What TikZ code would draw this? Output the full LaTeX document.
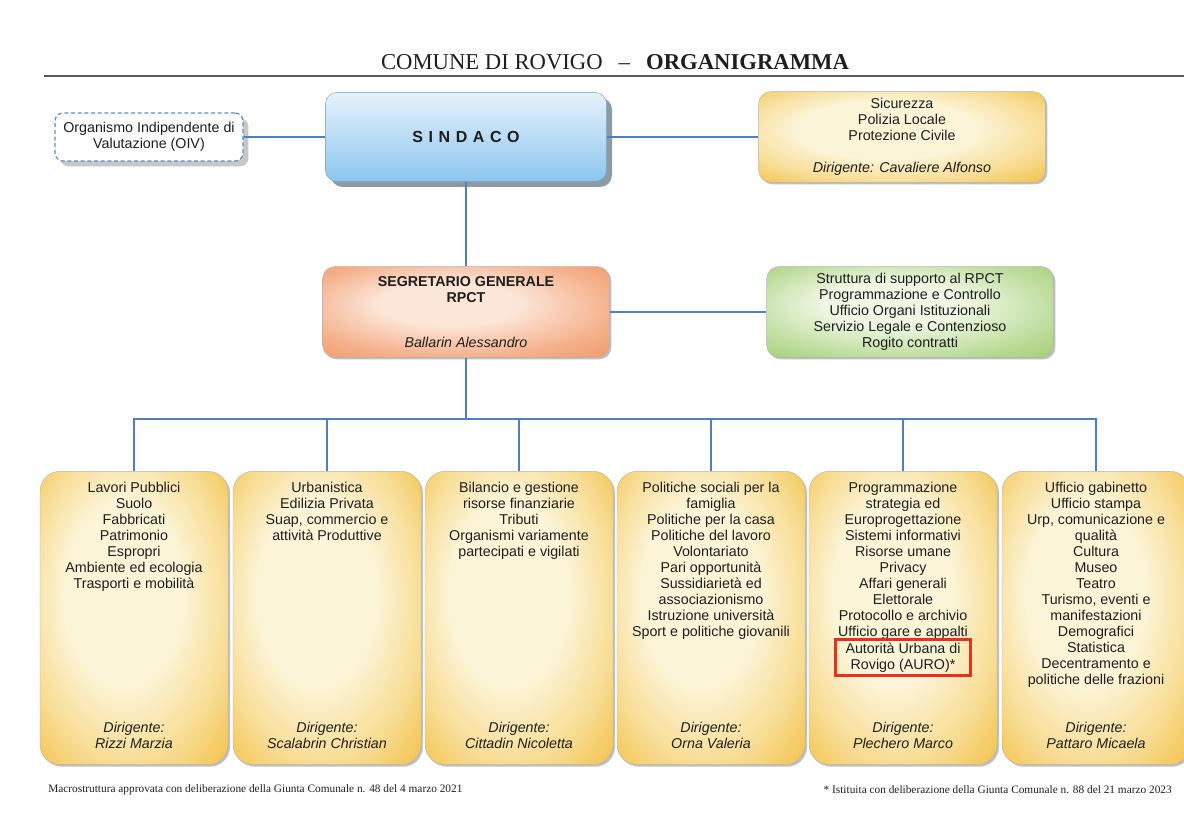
\documentclass[tikz,border=0pt]{standalone}
\usepackage{fontspec}
\setmainfont{Liberation Serif}
\newfontfamily\arialf{Liberation Sans}
\usetikzlibrary{positioning,shadows}

\definecolor{linkblue}{HTML}{4E7EC0}
\definecolor{oivblue}{HTML}{5B8CC8}
\definecolor{cream}{HTML}{FCF4D6}
\definecolor{gold}{HTML}{F3C24A}
\definecolor{skylite}{HTML}{E6F2FB}
\definecolor{skydark}{HTML}{8CC5EE}
\definecolor{peachlite}{HTML}{FCE6D8}
\definecolor{peachdark}{HTML}{F29C6E}
\definecolor{mintlite}{HTML}{EFF7E4}
\definecolor{mintdark}{HTML}{A6D07A}
\definecolor{shadowgray}{HTML}{8E9AA6}
\definecolor{alertred}{HTML}{E5321F}
\definecolor{inkgray}{HTML}{1E1E1E}

\pgfdeclareradialshading{yellowglow}{\pgfpoint{-4bp}{6bp}}{color(0bp)=(cream); color(16bp)=(cream); color(28bp)=(gold!50!cream); color(37bp)=(gold); color(50bp)=(gold)}
\pgfdeclareradialshading{peachglow}{\pgfpoint{-4bp}{6bp}}{color(0bp)=(peachlite); color(12bp)=(peachlite); color(27bp)=(peachdark!70!peachlite); color(36bp)=(peachdark); color(50bp)=(peachdark)}
\pgfdeclareradialshading{mintglow}{\pgfpoint{-4bp}{6bp}}{color(0bp)=(mintlite); color(12bp)=(mintlite); color(27bp)=(mintdark!65!mintlite); color(36bp)=(mintdark); color(50bp)=(mintdark)}

\begin{document}
\begin{tikzpicture}[x=0.75pt,y=-0.75pt,
    every node/.style={font=\arialf\fontsize{10.7}{12}\selectfont, align=center, text=inkgray},
    link/.style={draw=linkblue, line width=1pt},
    rule/.style={draw=black!65, line width=0.8pt},
    oivbox/.style={draw=oivblue, line width=0.9pt, dash pattern=on 3pt off 2pt, fill=white,
      rounded corners=6pt, minimum width=141pt, minimum height=36pt,
      drop shadow={shadow xshift=4pt, shadow yshift=-4pt, fill=black!22, opacity=1}},
    mayorbox/.style={rounded corners=9pt, top color=skylite, bottom color=skydark,
      draw=skydark!80!black, line width=0.3pt, minimum width=211pt, minimum height=67pt,
      drop shadow={shadow xshift=4pt, shadow yshift=-4pt, fill=shadowgray, opacity=1}},
    headbox/.style={rounded corners=9pt, shade, shading=#1, draw=black!30, line width=0.3pt,
      minimum width=215pt, minimum height=68pt,
      drop shadow={shadow xshift=1.5pt, shadow yshift=-1.5pt, fill=black, opacity=.25}},
    unitbox/.style={rounded corners=15pt, shade, shading=yellowglow, draw=black!30, line width=0.3pt,
      minimum width=141pt, minimum height=220pt,
      drop shadow={shadow xshift=1.5pt, shadow yshift=-1.5pt, fill=black, opacity=.25}},
    duty/.style={inner sep=0pt},
    boss/.style={inner sep=0pt, font=\arialf\itshape\fontsize{10.7}{12}\selectfont},
    foot/.style={inner sep=0pt, font=\fontsize{8.5}{10}\selectfont}]

  \useasboundingbox (0,0) rectangle (1184,823);

  % title
  \node (head) at (615,62) {\rmfamily\fontsize{17}{20}\selectfont COMUNE DI ROVIGO\hspace{12pt}--\hspace{12pt}\textbf{ORGANIGRAMMA}};
  \draw[rule] (44,76) -- (1184,76);

  % top level
  \node[oivbox] (oiv) at (149,137) {Organismo Indipendente di\\Valutazione (OIV)};
  \node[mayorbox] (sindaco) at (466,137) {\bfseries\fontsize{12}{14}\selectfont\addfontfeature{LetterSpace=35}SINDACO};
  \node[headbox=yellowglow] (sicurezza) at (902,137) {Sicurezza\\Polizia Locale\\Protezione Civile\\[12pt]\textit{Dirigente: Cavaliere Alfonso}};
  \node[headbox=peachglow] (segretario) at (466,312) {\textbf{SEGRETARIO GENERALE}\\\textbf{RPCT}\\[22pt]\textit{Ballarin Alessandro}};
  \node[headbox=mintglow] (supporto) at (910,312) {Struttura di supporto al RPCT\\Programmazione e Controllo\\Ufficio Organi Istituzionali\\Servizio Legale e Contenzioso\\Rogito contratti};

  % settori
  \foreach \n/\x in {1/134,2/327,3/519,4/711,5/903,6/1096}
    \node[unitbox] (u\n) at (\x,618) {};

  \node[duty, below=8pt of u1.north] (l1) {Lavori Pubblici\\Suolo\\Fabbricati\\Patrimonio\\Espropri\\Ambiente ed ecologia\\Trasporti e mobilità};
  \node[duty, below=8pt of u2.north] (l2) {Urbanistica\\Edilizia Privata\\Suap, commercio e\\attività Produttive};
  \node[duty, below=8pt of u3.north] (l3) {Bilancio e gestione\\risorse finanziarie\\Tributi\\Organismi variamente\\partecipati e vigilati};
  \node[duty, below=8pt of u4.north] (l4) {Politiche sociali per la\\famiglia\\Politiche per la casa\\Politiche del lavoro\\Volontariato\\Pari opportunità\\Sussidiarietà ed\\associazionismo\\Istruzione università\\Sport e politiche giovanili};
  \node[duty, below=8pt of u5.north] (l5) {Programmazione\\strategia ed\\Europrogettazione\\Sistemi informativi\\Risorse umane\\Privacy\\Affari generali\\Elettorale\\Protocollo e archivio\\Ufficio gare e appalti};
  \node[draw=alertred, line width=2.2pt, inner sep=1.5pt, minimum width=101pt, minimum height=27pt,
    below=-1pt of l5] (auro) {Autorità Urbana di\\Rovigo (AURO)*};
  \node[duty, below=8pt of u6.north] (l6) {Ufficio gabinetto\\Ufficio stampa\\Urp, comunicazione e\\qualità\\Cultura\\Museo\\Teatro\\Turismo, eventi e\\manifestazioni\\Demografici\\Statistica\\Decentramento e\\politiche delle frazioni};

  \node[boss, above=12pt of u1.south] (d1) {Dirigente:\\Rizzi Marzia};
  \node[boss, above=12pt of u2.south] (d2) {Dirigente:\\Scalabrin Christian};
  \node[boss, above=12pt of u3.south] (d3) {Dirigente:\\Cittadin Nicoletta};
  \node[boss, above=12pt of u4.south] (d4) {Dirigente:\\Orna Valeria};
  \node[boss, above=12pt of u5.south] (d5) {Dirigente:\\Plechero Marco};
  \node[boss, above=12pt of u6.south] (d6) {Dirigente:\\Pattaro Micaela};

  % connectors
  \coordinate (bus) at (466,419);
  \draw[link] (oiv) -- (sindaco);
  \draw[link] (sindaco) -- (sicurezza);
  \draw[link] (sindaco) -- (segretario);
  \draw[link] (segretario) -- (supporto);
  \draw[link] (segretario) -- (bus);
  \foreach \n in {1,...,6}
    \draw[link] (u\n) |- (bus);

  % notes
  \node[foot, anchor=west] (nota) at (48,790) {Macrostruttura approvata con deliberazione della Giunta Comunale n. 48 del 4 marzo 2021};
  \node[foot, anchor=east] (asterisco) at (1172,790) {* Istituita con deliberazione della Giunta Comunale n. 88 del 21 marzo 2023};
\end{tikzpicture}
\end{document}
